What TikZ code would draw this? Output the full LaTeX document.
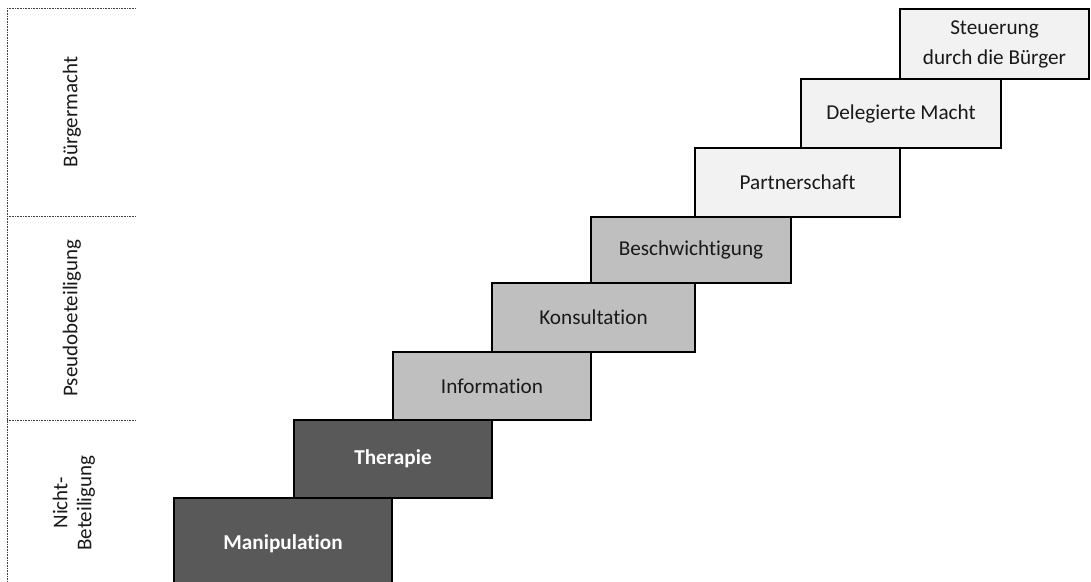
\documentclass[tikz,border=0pt]{standalone}
\usepackage{fontspec}
\setmainfont{Carlito}[Ligatures=NoCommon]
\begin{document}
\begin{tikzpicture}[x=1pt,y=-1pt,
  stepbox/.style={draw=black, line width=1.6pt, inner sep=0pt, align=center,
    font=\fontsize{21.2}{30}\selectfont, text=black!90},
  lowstep/.style={stepbox, fill=black!65, text=white, font=\fontsize{21.2}{30}\selectfont\bfseries},
  midstep/.style={stepbox, fill=black!25},
  highstep/.style={stepbox, fill=black!5},
  divider/.style={draw=black!75, line width=0.8pt, dash pattern=on 0.8pt off 0.8pt},
  grouplabel/.style={rotate=90, align=center, text=black!90,
    font=\fontsize{21}{24}\selectfont}]
\useasboundingbox (0,0) rectangle (1091,581);

% groups on the left
\coordinate (top) at (7,8);
\coordinate (bottom) at (7,583);
\draw[divider] (top) -- (bottom);
\draw[divider] (7,8) -- (136,8);
\draw[divider] (7,216) -- (136,216);
\draw[divider] (7,420) -- (136,420);
\node[grouplabel] (g3) at (72,112) {Bürgermacht};
\node[grouplabel] (g2) at (72,318) {Pseudobeteiligung};
\node[grouplabel] (g1) at (74,503) {Nicht-\\Beteiligung};

% the eight rungs
\node[lowstep, minimum width=218, minimum height=92] (s1) at (283,544) {Manipulation};
\node[lowstep, minimum width=198, minimum height=78] (s2) at (393,459) {Therapie};
\node[midstep, minimum width=198, minimum height=68] (s3) at (492,386) {Information};
\node[midstep, minimum width=203, minimum height=69] (s4) at (593.5,317.5) {Konsultation};
\node[midstep, minimum width=200, minimum height=66] (s5) at (691,250) {Beschwichtigung};
\node[highstep, minimum width=205, minimum height=69] (s6) at (797.5,182.5) {Partnerschaft};
\node[highstep, minimum width=200, minimum height=69] (s7) at (901,113.5) {Delegierte Macht};
\node[highstep, minimum width=189, minimum height=70] (s8) at (994.5,44) {Steuerung\\durch die Bürger};
\end{tikzpicture}
\end{document}
